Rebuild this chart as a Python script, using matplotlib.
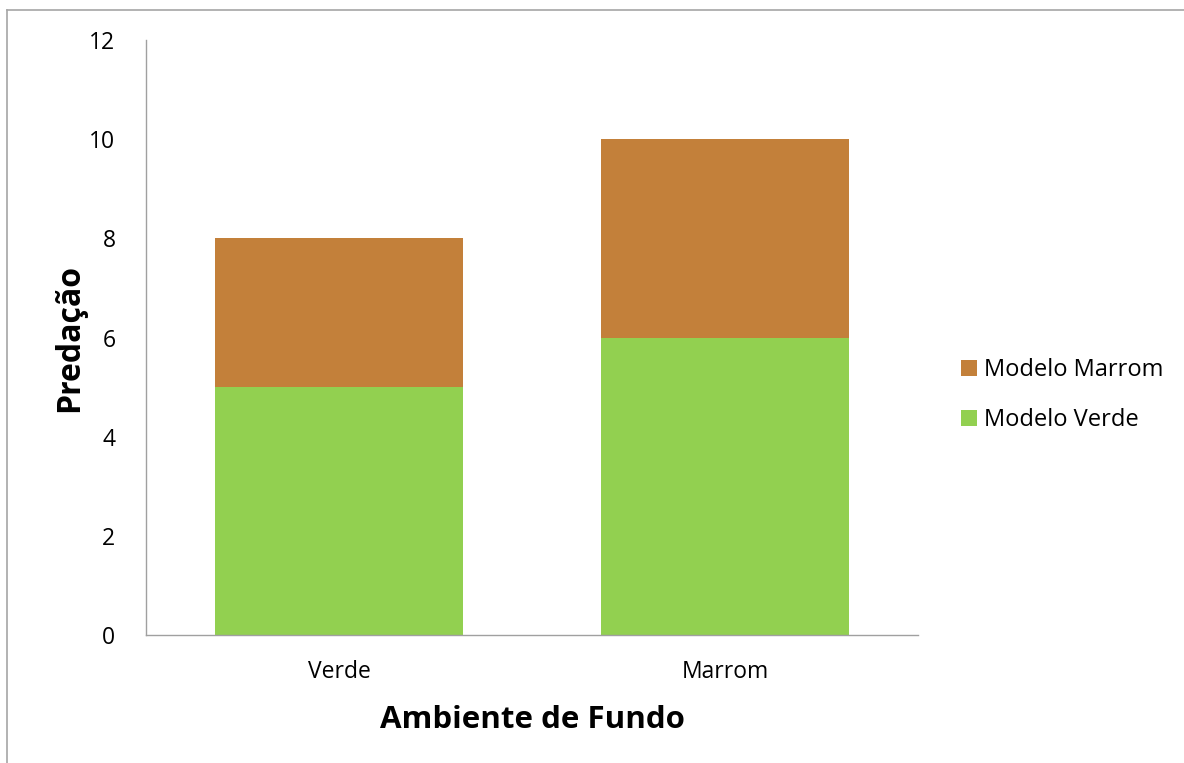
import matplotlib
matplotlib.use("Agg")
import matplotlib.pyplot as plt
from matplotlib.lines import Line2D

categories = ["Verde", "Marrom"]
modelo_verde = [5, 6]
modelo_marrom = [3, 4]
y_ticks = [0, 2, 4, 6, 8, 10, 12]

plt.rcParams['font.family'] = ['Open Sans', 'DejaVu Sans']

fig = plt.figure(figsize=(11.84, 7.63), dpi=100)
ax = fig.add_axes([146/1184, 1 - 635/763, (918-146)/1184, (635-40)/763])

x = list(range(len(categories)))
green = "#92D050"
brown = "#C3803A"
bw = 0.645
ax.bar(x, modelo_verde, width=bw, color=green, label="Modelo Verde")
ax.bar(x, modelo_marrom, width=bw, bottom=modelo_verde, color=brown, label="Modelo Marrom")

ax.set_xlim(-0.5, 1.5)
ax.set_ylim(0, 12)
ax.set_yticks(y_ticks)
ax.set_xticks(x)
ax.set_xticklabels(categories)
ax.tick_params(axis='both', length=0, labelsize=16.5)
ax.tick_params(axis='y', pad=22)
ax.tick_params(axis='x', pad=18)
for s in ["top", "right"]:
    ax.spines[s].set_visible(False)
for s in ["left", "bottom"]:
    ax.spines[s].set_color("#A0A0A0")
    ax.spines[s].set_linewidth(1.0)

ax.set_ylabel("Predação", fontsize=23, fontweight="bold", labelpad=2)
ax.set_xlabel("Ambiente de Fundo", fontsize=22.5, fontweight="bold", labelpad=15)

handles, labels = ax.get_legend_handles_labels()
leg = ax.legend(handles[::-1], labels[::-1], loc="center left",
                bbox_to_anchor=(1.028, 0.403), frameon=False, fontsize=17,
                handlelength=0.7, handleheight=0.7, handletextpad=0.3,
                labelspacing=1.1)

# outer frame (top and left visible)
fig.add_artist(Line2D([7/1184, 7/1184], [0, 1 - 10/763], transform=fig.transFigure, color="#A6A6A6", lw=1.2))
fig.add_artist(Line2D([7/1184, 1], [1 - 10/763, 1 - 10/763], transform=fig.transFigure, color="#A6A6A6", lw=1.2))

fig.savefig("out.png", dpi=100)
